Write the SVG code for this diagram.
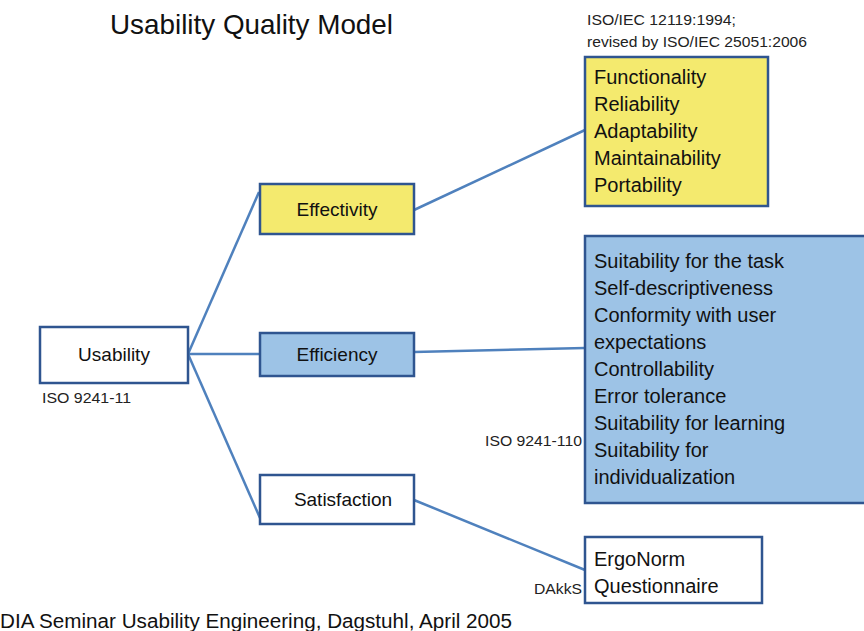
<svg xmlns="http://www.w3.org/2000/svg" width="864" height="631" viewBox="0 0 864 631">
<style>
text{font-family:"Liberation Sans",Arial,sans-serif;fill:#111}
.box{stroke:#2F5590;stroke-width:2.5}
.y{fill:#F4EA6E}.b{fill:#9DC3E6}.w{fill:#fff}
.lbl{font-size:19px;text-anchor:middle}
.lst{font-size:20px}
.sm{font-size:15px;fill:#222}
.con{stroke:#4F81BD;stroke-width:2.5;fill:none}
</style>
<rect width="864" height="631" fill="#fff"/>
<text x="110" y="34" font-size="28" textLength="283" lengthAdjust="spacingAndGlyphs">Usability Quality Model</text>
<text class="sm" x="587" y="25" textLength="149" lengthAdjust="spacingAndGlyphs">ISO/IEC 12119:1994;</text>
<text class="sm" x="587" y="47" textLength="220" lengthAdjust="spacingAndGlyphs">revised by ISO/IEC 25051:2006</text>
<g id="connectors">
<line class="con" x1="188" y1="354" x2="259" y2="192"/>
<line class="con" x1="188" y1="354" x2="260" y2="354"/>
<line class="con" x1="188" y1="354" x2="260" y2="518"/>
<line class="con" x1="414" y1="210" x2="585" y2="130"/>
<line class="con" x1="414" y1="352" x2="585" y2="348"/>
<line class="con" x1="414" y1="500" x2="585" y2="570"/>
</g>
<g id="usability">
<rect class="box w" x="40" y="327" width="148" height="56"/>
<text class="lbl" x="114" y="361">Usability</text>
<text class="sm" x="42" y="403" textLength="89" lengthAdjust="spacingAndGlyphs">ISO 9241-11</text>
</g>
<g id="effectivity">
<rect class="box y" x="260" y="184" width="154" height="50"/>
<text class="lbl" x="337" y="216">Effectivity</text>
</g>
<g id="efficiency">
<rect class="box b" x="260" y="333" width="154" height="43"/>
<text class="lbl" x="337" y="361">Efficiency</text>
</g>
<g id="satisfaction">
<rect class="box w" x="260" y="475" width="154" height="49"/>
<text class="lbl" x="343" y="506">Satisfaction</text>
</g>
<g id="iso12119">
<rect class="box y" x="585" y="57" width="183" height="149"/>
<text class="lst" x="594" y="84">Functionality</text>
<text class="lst" x="594" y="111">Reliability</text>
<text class="lst" x="594" y="138">Adaptability</text>
<text class="lst" x="594" y="165">Maintainability</text>
<text class="lst" x="594" y="192">Portability</text>
</g>
<g id="iso9241-110">
<rect class="box b" x="585" y="236" width="290" height="267"/>
<text class="lst" x="594" y="268">Suitability for the task</text>
<text class="lst" x="594" y="295">Self-descriptiveness</text>
<text class="lst" x="594" y="322">Conformity with user</text>
<text class="lst" x="594" y="349">expectations</text>
<text class="lst" x="594" y="376">Controllability</text>
<text class="lst" x="594" y="403">Error tolerance</text>
<text class="lst" x="594" y="430">Suitability for learning</text>
<text class="lst" x="594" y="457">Suitability for</text>
<text class="lst" x="594" y="484">individualization</text>
<text class="sm" x="485" y="446" textLength="97" lengthAdjust="spacingAndGlyphs">ISO 9241-110</text>
</g>
<g id="ergonorm">
<rect class="box w" x="585" y="537" width="177" height="66"/>
<text class="lst" x="594" y="566">ErgoNorm</text>
<text class="lst" x="594" y="593">Questionnaire</text>
<text class="sm" x="534" y="594" textLength="48" lengthAdjust="spacingAndGlyphs">DAkkS</text>
</g>
<text x="0" y="628" font-size="20" textLength="512" lengthAdjust="spacingAndGlyphs">DIA Seminar Usability Engineering, Dagstuhl, April 2005</text>
</svg>
